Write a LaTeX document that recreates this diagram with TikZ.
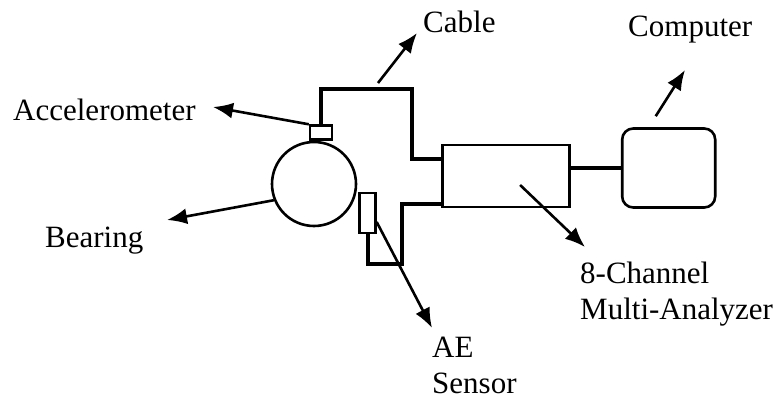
\documentclass[tikz,border=0pt]{standalone}
\usepackage{fontspec}
\setmainfont{Liberation Serif}
\usepackage{tikz}
\usetikzlibrary{
    arrows.meta,
    positioning
}
\tikzset{
    bearingbody/.style={
        draw,
        circle,
        line width=2.6pt,
        minimum size=84pt,
        inner sep=0pt
    }
}
\tikzset{
    sensorbox/.style={
        draw,
        line width=2.4pt,
        inner sep=0pt
    }
}
\tikzset{
    analyzerbox/.style={
        draw,
        line width=2.6pt,
        minimum width=127pt,
        minimum height=62pt,
        inner sep=0pt
    }
}
\tikzset{
    computerbox/.style={
        draw,
        rounded corners=11pt,
        line width=2.6pt,
        minimum width=93pt,
        minimum height=79pt,
        inner sep=0pt
    }
}
\tikzset{
    cable/.style={
        draw=black,
        line width=4pt
    }
}
\tikzset{
    pointer/.style={
        draw=black,
        line width=2.6pt,
        -{Latex[length=20pt,width=16pt]}
    }
}
\tikzset{
    tag/.style={
        inner sep=0pt,
        align=left,
        font=\fontsize{31}{36}\selectfont
    }
}

\begin{document}
\begin{tikzpicture}[
    x=1pt,
    y=-1pt
]
\useasboundingbox (0,0) rectangle (774,401);

\node[bearingbody] (bearing) at (314,184) {};
\node[sensorbox, minimum width=22pt, minimum height=14pt,
    above=0pt of bearing, xshift=7pt] (accel) {};
\node[sensorbox, minimum width=16pt, minimum height=40pt,
    right=1pt of bearing, yshift=-29pt] (aesensor) {};
\node[analyzerbox, right=84pt of bearing, yshift=8pt] (analyzer) {};
\node[computerbox, right=50pt of analyzer, yshift=8pt] (computer) {};

\coordinate (cabletop) at (412,89);
\coordinate (cablebottom) at (402,264);

\draw[cable] (accel.north) |- (cabletop) |- ([yshift=17pt]analyzer.west);
\draw[cable] (aesensor.south) |- (cablebottom) |- ([yshift=-28pt]analyzer.west);
\draw[cable] ([yshift=8pt]analyzer.east) -- (computer.west);

\coordinate (cabletail) at (378,83);
\coordinate (cabletip) at (417,33);
\coordinate (acceltip) at (213,107);
\coordinate (bearingtip) at (167,220);
\coordinate (aetip) at (432,328);
\coordinate (analyzertip) at (585,247);
\coordinate (computertip) at (685,70);

\draw[pointer] (accel.north west) -- (acceltip);
\draw[pointer] (cabletail) -- (cabletip);
\draw[pointer] (bearing.202) -- (bearingtip);
\draw[pointer] ([yshift=-9pt]aesensor.east) -- (aetip);
\draw[pointer] ([shift={(14,9)}]analyzer.center) -- (analyzertip);
\draw[pointer] ([shift={(-13,-11)}]computer.north) -- (computertip);

\node[tag, anchor=base west] (accellabel) at (13,121) {Accelerometer};
\node[tag, anchor=base west] (cablelabel) at (423,33) {Cable};
\node[tag, anchor=base west] (computerlabel) at (628,37) {Computer};
\node[tag, anchor=base west] (bearinglabel) at (45,247) {Bearing};
\node[tag, anchor=north west] (analyzerlabel) at (580,262)
    {8-Channel\\Multi-Analyzer};
\node[tag, anchor=north west] (aelabel) at (432,337)
    {AE\\Sensor};

\end{tikzpicture}
\end{document}
